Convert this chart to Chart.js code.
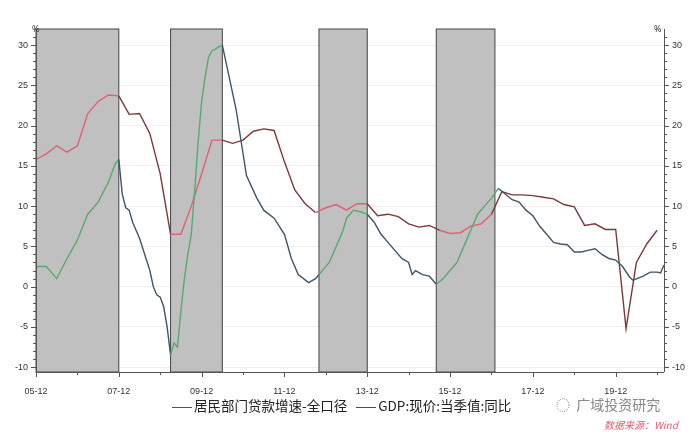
<!DOCTYPE html>
<html><head><meta charset="utf-8">
<script src="https://cdn.jsdelivr.net/npm/chart.js@4"></script>
<style>body{margin:0;background:#fff;font-family:"Noto Sans CJK SC","Noto Sans",sans-serif}
#wrap{position:relative;width:697px;height:435px}
#lg{position:absolute;top:395px;left:172px;font-size:13.5px;color:#222;white-space:nowrap}
#lg span.l{display:inline-block;width:20px;height:0;border-top:1.5px solid;vertical-align:middle;margin-right:2px}
#wm{position:absolute;left:556px;top:394px;font-size:14px;color:#888;white-space:nowrap}
#src{position:absolute;left:604px;top:417px;font-size:10px;color:#e06070;font-style:italic}
</style></head><body>
<div id="wrap"><canvas id="c" width="697" height="435"></canvas>
<div id="lg"><span class="l" style="border-color:#3f5668"></span>居民部门贷款增速-全口径&nbsp;&nbsp;&nbsp;<span class="l" style="border-color:#7a3a3a"></span>GDP:现价:当季值:同比</div>
<div id="wm">◌&nbsp;&nbsp;广域投资研究</div>
<div id="src">数据来源：Wind</div></div>
<script>
// x = months since 2005-12
const xTickLabels = {0:'05-12',24:'07-12',48:'09-12',72:'11-12',96:'13-12',120:'15-12',144:'17-12',168:'19-12'};
const shadePeriods = [[0,24],[39,54],[82,96],[116,133]];
const loanX = [0,3,6,9,12,15,18,21,23,24,25,26,27,28,30,33,34,35,36,37,38,39,40,41,42,43,44,45,46,47,48,49,50,51,52,53,54,58,61,64,66,69,72,74,76,79,81,82,85,87,89,90,92,94,96,98,100,103,106,108,109,110,112,114,116,118,120,122,124,126,128,130,132,134,136,138,140,142,144,146,148,150,152,154,156,158,160,162,164,166,168,170,172,173,176,178,180,181,182];
const loanY = [2.5,2.5,1.0,3.5,5.8,9,10.5,13,15.3,15.8,11.5,9.8,9.5,8,6,2,0,-1,-1.3,-2.5,-5,-8.5,-7,-7.5,-3,1,4,6.5,12,18,23,26,28.5,29.3,29.5,29.8,30,22,13.8,11,9.5,8.5,6.5,3.5,1.5,0.5,1.0,1.5,3,5,7,8.5,9.5,9.3,9.0,8,6.5,5,3.5,3,1.5,2,1.5,1.3,0.3,1,2,3,5,7,9,10,11,12.2,11.5,10.8,10.5,9.5,8.8,7.5,6.5,5.5,5.3,5.2,4.3,4.3,4.5,4.7,4.0,3.5,3.3,2.5,1.2,0.8,1.3,1.8,1.8,1.7,2.7];
const gdpX = [0,3,6,9,12,15,18,21,24,27,30,33,36,39,42,45,48,51,54,57,60,63,66,69,72,75,78,81,84,87,90,93,96,99,102,105,108,111,114,117,120,123,126,129,132,135,138,141,144,147,150,153,156,159,162,165,168,171,174,177,180];
const gdpY = [15.8,16.5,17.5,16.7,17.5,21.5,23,23.8,23.7,21.4,21.5,19,14,6.5,6.5,10,14,18.2,18.2,17.8,18.2,19.3,19.6,19.4,15.5,12,10.3,9.2,9.8,10.2,9.5,10.3,10.3,8.8,9,8.7,7.8,7.4,7.6,7.0,6.6,6.7,7.5,7.8,9,11.8,11.4,11.4,11.3,11.1,10.9,10.2,9.9,7.6,7.8,7.1,7.1,-5.2,3.0,5.3,7.0];
const yTicks = [-10,-5,0,5,10,15,20,25,30];

const inShade = m => shadePeriods.some(p => m >= p[0] && m <= p[1]);
const segCol = (inC, outC) => ctx => inShade((ctx.p0.parsed.x + ctx.p1.parsed.x)/2) ? inC : outC;
const pts = (xs, ys) => xs.map((x,i)=>({x, y: ys[i]}));

const shadePlugin = {id:'shade', beforeDatasetsDraw(ch){
  const {ctx, chartArea:a, scales:{x}} = ch;
  ctx.save();
  shadePeriods.forEach(p=>{
    const x0 = x.getPixelForValue(p[0]), x1 = x.getPixelForValue(p[1]);
    ctx.fillStyle='#c0c0c0'; ctx.fillRect(x0,a.top,x1-x0,a.bottom-a.top);
    ctx.strokeStyle='#444'; ctx.lineWidth=1; ctx.strokeRect(x0,a.top,x1-x0,a.bottom-a.top);
  });
  ctx.restore();
}, afterDraw(ch){
  const {ctx, chartArea:a, scales:{x,y}} = ch;
  ctx.save(); ctx.strokeStyle='#555'; ctx.lineWidth=1;
  ctx.beginPath();
  ctx.moveTo(a.left+0.5,a.top); ctx.lineTo(a.left+0.5,a.bottom);
  ctx.moveTo(a.right+0.5,a.top); ctx.lineTo(a.right+0.5,a.bottom);
  ctx.moveTo(a.left,a.bottom+0.5); ctx.lineTo(a.right,a.bottom+0.5);
  for(let v=-10; v<=31; v++){ const py=Math.round(y.getPixelForValue(v))+0.5, L=v%5===0?5:3;
    ctx.moveTo(a.left-L,py); ctx.lineTo(a.left,py); ctx.moveTo(a.right,py); ctx.lineTo(a.right+L,py);}
  for(let m=0; m<=182; m+=12){ const px=Math.round(x.getPixelForValue(m))+0.5;
    ctx.moveTo(px,a.bottom); ctx.lineTo(px,a.bottom+(m%24===0?5:3));}
  ctx.stroke();
  ctx.fillStyle='#333'; ctx.font='9px "Noto Sans"';
  ctx.fillText('%', a.left-4, a.top+3); ctx.fillText('%', a.right-10, a.top+3);
  ctx.restore();
}};

new Chart(document.getElementById('c'), {
  type:'line',
  data:{datasets:[
    {data:pts(loanX,loanY), borderWidth:1.4, pointRadius:0, borderColor:'#3f5668', segment:{borderColor:segCol('#5aa870','#3f5668')}},
    {data:pts(gdpX,gdpY), borderWidth:1.4, pointRadius:0, borderColor:'#7a3a3a', segment:{borderColor:segCol('#e06070','#7a3a3a')}}
  ]},
  options:{animation:false, responsive:false, layout:{padding:{top:29,left:0,right:0}},
    plugins:{legend:{display:false}, tooltip:{enabled:false}},
    scales:{
      x:{type:'linear', min:0, max:182, grid:{display:false}, border:{display:false},
         afterBuildTicks(s){s.ticks=Object.keys(xTickLabels).map(v=>({value:+v}));},
         afterFit(s){s.height=63;},
         ticks:{autoSkip:false, maxRotation:0, color:'#333', font:{size:9}, padding:6, callback:v=>xTickLabels[v]}},
      y:{min:-10.6, max:32, position:'left', afterBuildTicks(s){s.ticks=yTicks.map(v=>({value:v}));},
         afterFit(s){s.width=36;}, border:{display:false},
         grid:{color:'#efefef', drawTicks:false}, ticks:{color:'#333', font:{size:9}, padding:8}},
      y2:{min:-10.6, max:32, position:'right', afterBuildTicks(s){s.ticks=yTicks.map(v=>({value:v}));},
         afterFit(s){s.width=33;}, border:{display:false},
         grid:{display:false, drawTicks:false}, ticks:{color:'#333', font:{size:9}, padding:8}}
    }},
  plugins:[shadePlugin]
});
</script></body></html>
